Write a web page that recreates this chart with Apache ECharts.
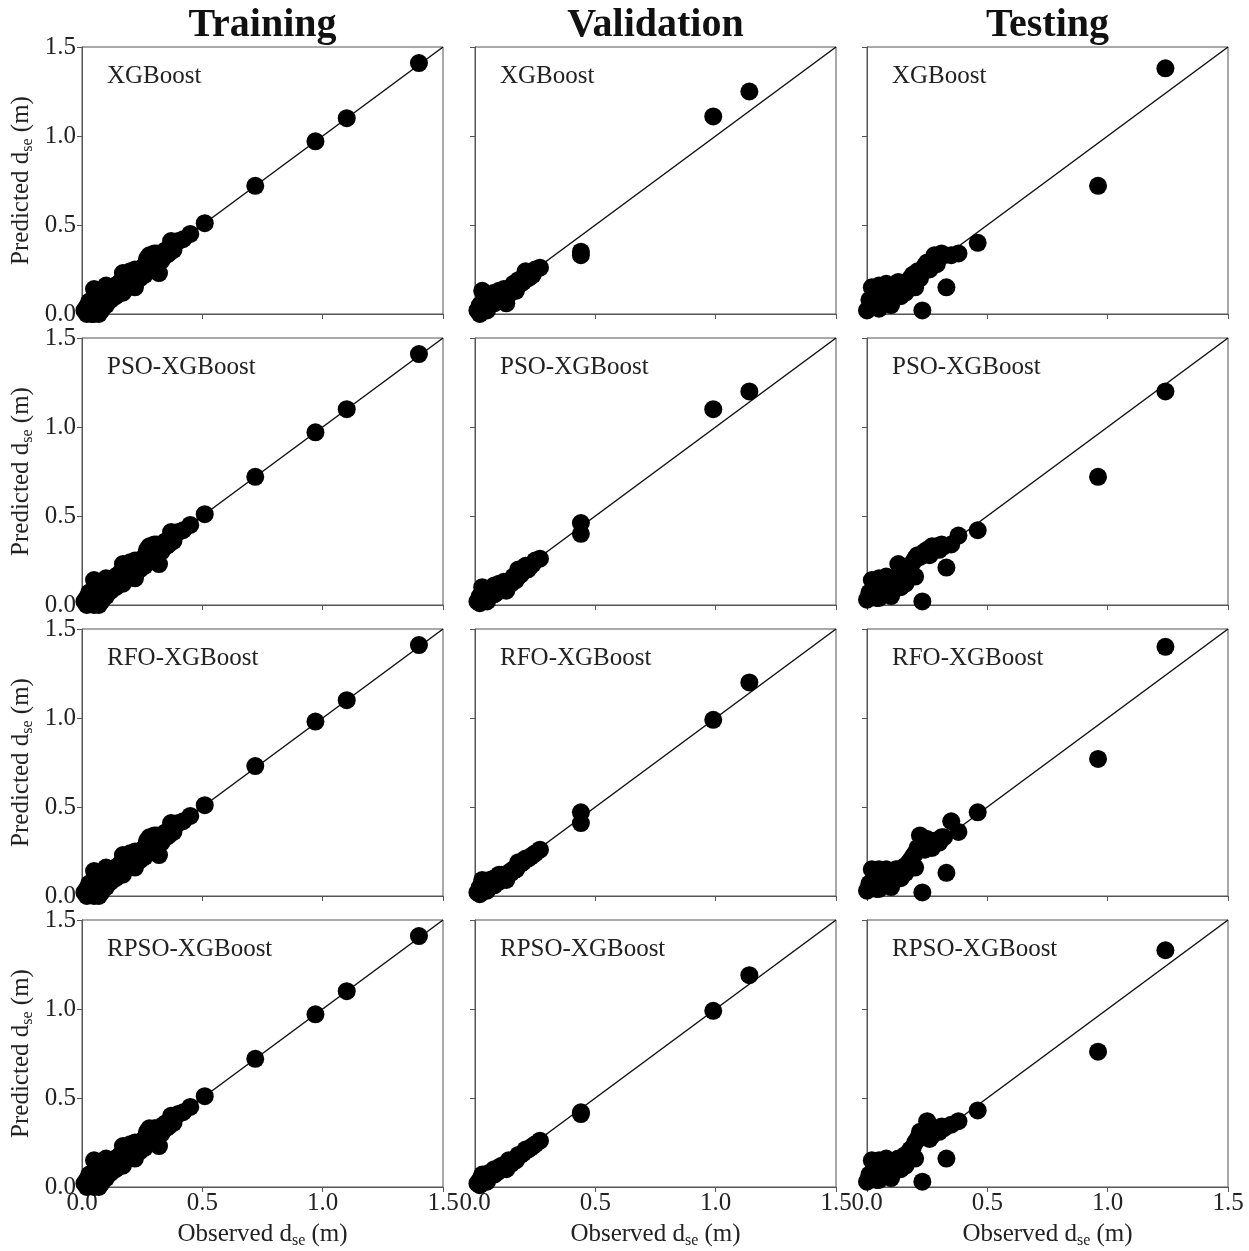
<!DOCTYPE html>
<html>
<head>
<meta charset="utf-8">
<title>Observed vs predicted dse</title>
<script src="https://cdn.jsdelivr.net/npm/echarts@6/dist/echarts.min.js"></script>
<style>
  html, body { margin: 0; padding: 0; background: #fff; }
  #main { width: 1249px; height: 1251px; }
</style>
</head>
<body>
<div id="main"></div>
<script>
  // column headers and model names
  var stages = ['Training', 'Validation', 'Testing'];
  var models = ['XGBoost', 'PSO-XGBoost', 'RFO-XGBoost', 'RPSO-XGBoost'];

  // training set (observed, then predicted by each model)
  var trainObs  = [0.01,0.02,0.02,0.03,0.03,0.04,0.04,0.05,0.05,0.06,0.06,0.07,0.07,0.08,0.08,0.09,0.10,0.10,0.11,0.12,0.12,0.13,0.14,0.15,0.15,0.16,0.17,0.18,0.18,0.19,0.20,0.20,0.21,0.22,0.22,0.23,0.24,0.25,0.25,0.26,0.27,0.28,0.28,0.29,0.30,0.30,0.31,0.32,0.33,0.34,0.35,0.36,0.37,0.38,0.40,0.42,0.45,0.51,0.72,0.97,1.10,1.40,
                   0.02,0.03,0.05,0.06,0.08,0.09,0.10,0.12,0.13,0.14,0.16,0.17,0.19,0.20,0.22,0.24,0.26,0.27,0.29,0.31,0.33,0.35,0.37,0.38];
  var trainXGB  = [0.02,0.00,0.04,0.01,0.05,0.03,0.00,0.14,0.06,0.02,0.07,0.00,0.08,0.05,0.09,0.07,0.10,0.16,0.09,0.12,0.14,0.12,0.16,0.14,0.17,0.15,0.23,0.19,0.16,0.22,0.23,0.20,0.21,0.22,0.15,0.24,0.22,0.26,0.24,0.27,0.28,0.33,0.27,0.30,0.34,0.30,0.25,0.23,0.33,0.35,0.36,0.34,0.38,0.40,0.41,0.42,0.45,0.51,0.72,0.97,1.10,1.41,
                   0.03,0.07,0.00,0.04,0.02,0.11,0.05,0.08,0.15,0.10,0.18,0.12,0.16,0.24,0.25,0.20,0.22,0.31,0.26,0.34,0.30,0.33,0.41,0.36];
  var trainPSO  = [0.02,0.00,0.04,0.01,0.05,0.03,0.01,0.14,0.06,0.02,0.07,0.00,0.08,0.05,0.09,0.07,0.10,0.15,0.09,0.12,0.14,0.12,0.16,0.14,0.17,0.15,0.23,0.19,0.16,0.22,0.23,0.20,0.21,0.22,0.15,0.24,0.22,0.26,0.24,0.27,0.28,0.33,0.27,0.30,0.34,0.30,0.25,0.23,0.33,0.35,0.36,0.34,0.38,0.40,0.41,0.42,0.45,0.51,0.72,0.97,1.10,1.41,
                   0.03,0.07,0.00,0.04,0.02,0.11,0.05,0.08,0.15,0.10,0.18,0.12,0.16,0.24,0.25,0.20,0.22,0.31,0.26,0.34,0.30,0.33,0.41,0.36];
  var trainRFO  = [0.02,0.00,0.04,0.01,0.05,0.03,0.01,0.14,0.06,0.02,0.07,0.00,0.08,0.05,0.09,0.07,0.10,0.16,0.09,0.12,0.14,0.12,0.16,0.14,0.17,0.15,0.23,0.19,0.16,0.22,0.23,0.20,0.21,0.22,0.16,0.24,0.22,0.26,0.24,0.27,0.28,0.33,0.27,0.30,0.34,0.30,0.25,0.23,0.33,0.35,0.36,0.34,0.38,0.40,0.41,0.42,0.45,0.51,0.73,0.98,1.10,1.41,
                   0.03,0.07,0.00,0.04,0.02,0.11,0.05,0.08,0.15,0.10,0.18,0.12,0.16,0.24,0.25,0.20,0.22,0.31,0.26,0.34,0.30,0.33,0.41,0.36];
  var trainRPSO = [0.02,0.00,0.04,0.01,0.05,0.03,0.01,0.15,0.06,0.02,0.07,0.00,0.08,0.05,0.09,0.07,0.10,0.16,0.09,0.12,0.14,0.12,0.16,0.14,0.17,0.15,0.23,0.19,0.16,0.22,0.23,0.20,0.21,0.22,0.16,0.24,0.22,0.26,0.24,0.27,0.28,0.33,0.27,0.30,0.33,0.30,0.25,0.23,0.33,0.35,0.36,0.34,0.38,0.40,0.41,0.42,0.45,0.51,0.72,0.97,1.10,1.41,
                   0.03,0.07,0.00,0.04,0.02,0.11,0.05,0.08,0.15,0.10,0.18,0.12,0.16,0.24,0.25,0.20,0.22,0.31,0.26,0.33,0.30,0.33,0.40,0.36];

  // validation set
  var valObs  = [0.01,0.02,0.03,0.03,0.04,0.05,0.06,0.07,0.08,0.09,0.10,0.11,0.12,0.13,0.14,0.15,0.16,0.17,0.18,0.20,0.21,0.22,0.24,0.25,0.27,0.44,0.44,0.99,1.14,
                 0.02,0.04,0.05,0.06,0.08,0.10,0.11,0.13,0.15,0.17,0.19,0.23];
  var valXGB  = [0.02,0.00,0.13,0.05,0.03,0.08,0.05,0.10,0.12,0.07,0.13,0.10,0.14,0.06,0.14,0.12,0.17,0.15,0.19,0.18,0.24,0.20,0.22,0.25,0.26,0.35,0.33,1.11,1.25,
                 0.05,0.08,0.02,0.10,0.06,0.08,0.13,0.11,0.15,0.13,0.17,0.21];
  var valPSO  = [0.02,0.01,0.10,0.04,0.03,0.07,0.05,0.09,0.11,0.07,0.12,0.10,0.13,0.08,0.13,0.12,0.16,0.15,0.20,0.19,0.22,0.20,0.23,0.25,0.26,0.46,0.40,1.10,1.20,
                 0.05,0.07,0.02,0.09,0.06,0.08,0.12,0.11,0.14,0.14,0.17,0.22];
  var valRFO  = [0.02,0.01,0.09,0.04,0.03,0.07,0.05,0.09,0.10,0.08,0.12,0.10,0.12,0.09,0.13,0.13,0.15,0.15,0.19,0.19,0.21,0.21,0.23,0.24,0.26,0.47,0.41,0.99,1.20,
                 0.05,0.07,0.03,0.09,0.06,0.08,0.12,0.11,0.14,0.15,0.18,0.22];
  var valRPSO = [0.02,0.01,0.07,0.04,0.03,0.06,0.06,0.08,0.10,0.08,0.11,0.10,0.12,0.10,0.15,0.13,0.15,0.16,0.18,0.19,0.21,0.21,0.23,0.24,0.26,0.42,0.41,0.99,1.19,
                 0.04,0.07,0.03,0.08,0.07,0.09,0.12,0.12,0.14,0.15,0.18,0.22];

  // testing set
  var testObs  = [0.00,0.01,0.02,0.03,0.04,0.05,0.05,0.06,0.07,0.08,0.09,0.10,0.11,0.12,0.13,0.14,0.15,0.16,0.17,0.18,0.19,0.20,0.21,0.22,0.23,0.25,0.27,0.29,0.31,0.32,0.33,0.35,0.38,0.46,0.96,1.24,
                  0.02,0.03,0.04,0.06,0.07,0.08,0.09,0.10,0.11,0.12,0.14,0.16,0.18,0.20,0.24,0.26,0.28,0.30];
  var testXGB  = [0.02,0.08,0.15,0.05,0.12,0.16,0.03,0.09,0.12,0.17,0.07,0.10,0.14,0.11,0.18,0.12,0.15,0.16,0.14,0.20,0.22,0.18,0.24,0.20,0.02,0.29,0.30,0.28,0.34,0.33,0.15,0.33,0.34,0.40,0.72,1.38,
                  0.06,0.12,0.04,0.14,0.06,0.10,0.14,0.05,0.09,0.15,0.10,0.12,0.16,0.15,0.27,0.25,0.33,0.32];
  var testPSO  = [0.03,0.07,0.14,0.05,0.11,0.15,0.04,0.09,0.12,0.16,0.08,0.10,0.14,0.11,0.23,0.13,0.15,0.17,0.16,0.21,0.24,0.26,0.28,0.27,0.02,0.31,0.33,0.33,0.34,0.33,0.21,0.34,0.39,0.42,0.72,1.20,
                  0.06,0.12,0.04,0.13,0.06,0.10,0.14,0.05,0.09,0.15,0.10,0.12,0.17,0.16,0.30,0.28,0.32,0.31];
  var testRFO  = [0.03,0.07,0.15,0.05,0.12,0.15,0.04,0.10,0.12,0.15,0.08,0.11,0.13,0.13,0.15,0.14,0.16,0.17,0.18,0.20,0.22,0.24,0.27,0.34,0.02,0.32,0.27,0.30,0.33,0.33,0.13,0.42,0.36,0.47,0.77,1.40,
                  0.06,0.12,0.04,0.14,0.06,0.10,0.14,0.05,0.09,0.15,0.10,0.13,0.17,0.16,0.26,0.29,0.31,0.30];
  var testRPSO = [0.03,0.07,0.15,0.05,0.12,0.15,0.04,0.10,0.13,0.16,0.08,0.11,0.13,0.15,0.16,0.14,0.17,0.18,0.19,0.21,0.22,0.25,0.27,0.31,0.03,0.37,0.29,0.32,0.34,0.33,0.16,0.35,0.37,0.43,0.76,1.33,
                  0.06,0.12,0.04,0.14,0.06,0.10,0.14,0.05,0.09,0.15,0.10,0.12,0.17,0.16,0.28,0.27,0.32,0.31];

  var panels = [
    [[trainObs, trainXGB],  [valObs, valXGB],  [testObs, testXGB]],
    [[trainObs, trainPSO],  [valObs, valPSO],  [testObs, testPSO]],
    [[trainObs, trainRFO],  [valObs, valRFO],  [testObs, testRFO]],
    [[trainObs, trainRPSO], [valObs, valRPSO], [testObs, testRPSO]]
  ];

  var chart = echarts.init(document.getElementById('main'));
  var serif = '"Liberation Serif", "DejaVu Serif", serif';
  var colLeft = [82, 475, 867];
  var rowTop = [47, 338, 629, 920];
  var gw = 361, gh = 267;

  var nameRich = {
    a: { fontFamily: serif, fontSize: 25, color: '#222' },
    s: { fontFamily: serif, fontSize: 16, color: '#222', padding: [14, 0, 0, 0] }
  };

  var grids = [], xAxes = [], yAxes = [], series = [], titles = [];

  for (var c = 0; c < 3; c++) {
    titles.push({
      text: stages[c],
      left: colLeft[c] + gw / 2,
      top: 6,
      padding: 0,
      textAlign: 'center',
      textStyle: { fontFamily: serif, fontSize: 40, fontWeight: 'bold', color: '#111' }
    });
  }

  for (var r = 0; r < 4; r++) {
    for (var c = 0; c < 3; c++) {
      var idx = grids.length;
      grids.push({
        left: colLeft[c], top: rowTop[r], width: gw, height: gh,
        show: true, borderColor: '#555', borderWidth: 1
      });
      xAxes.push({
        gridIndex: idx, type: 'value', min: 0, max: 1.5, interval: 0.5,
        name: r === 3 ? '{a|Observed d}{s|se}{a| (m)}' : '',
        nameLocation: 'middle', nameGap: 32,
        nameTextStyle: { rich: nameRich },
        axisLine: { lineStyle: { color: '#555', width: 1 } },
        axisTick: { inside: false, length: 5, lineStyle: { color: '#555' } },
        axisLabel: {
          show: r === 3, margin: 4, fontFamily: serif, fontSize: 25, color: '#222',
          formatter: function (v) { return v.toFixed(1); }
        },
        splitLine: { show: false }
      });
      yAxes.push({
        gridIndex: idx, type: 'value', min: 0, max: 1.5, interval: 0.5,
        name: c === 0 ? '{a|Predicted d}{s|se}{a| (m)}' : '',
        nameLocation: 'middle', nameGap: 46,
        nameTextStyle: { rich: nameRich },
        axisLine: { lineStyle: { color: '#555', width: 1 } },
        axisTick: { inside: false, length: 5, lineStyle: { color: '#555' } },
        axisLabel: {
          show: c === 0, margin: 6, fontFamily: serif, fontSize: 25, color: '#222',
          formatter: function (v) { return v.toFixed(1); }
        },
        splitLine: { show: false }
      });
      titles.push({
        text: models[r],
        left: colLeft[c] + 25,
        top: rowTop[r] + 17,
        padding: 0,
        textStyle: { fontFamily: serif, fontSize: 25, fontWeight: 'normal', color: '#222' }
      });

      var obs = panels[r][c][0], pred = panels[r][c][1];
      var pts = [];
      for (var i = 0; i < obs.length; i++) pts.push([obs[i], pred[i]]);

      // 1:1 line
      series.push({
        type: 'line', xAxisIndex: idx, yAxisIndex: idx,
        data: [[0, 0], [1.5, 1.5]], symbol: 'none', silent: true,
        lineStyle: { color: '#111', width: 1.5 }, z: 2
      });
      series.push({
        type: 'scatter', xAxisIndex: idx, yAxisIndex: idx,
        data: pts, symbolSize: 18,
        itemStyle: { color: '#000', opacity: 1 }, z: 3
      });
    }
  }

  chart.setOption({
    animation: false,
    backgroundColor: '#fff',
    title: titles,
    grid: grids,
    xAxis: xAxes,
    yAxis: yAxes,
    series: series
  });
  window.addEventListener('resize', function () {
    chart.resize();
  });
</script>
</body>
</html>
